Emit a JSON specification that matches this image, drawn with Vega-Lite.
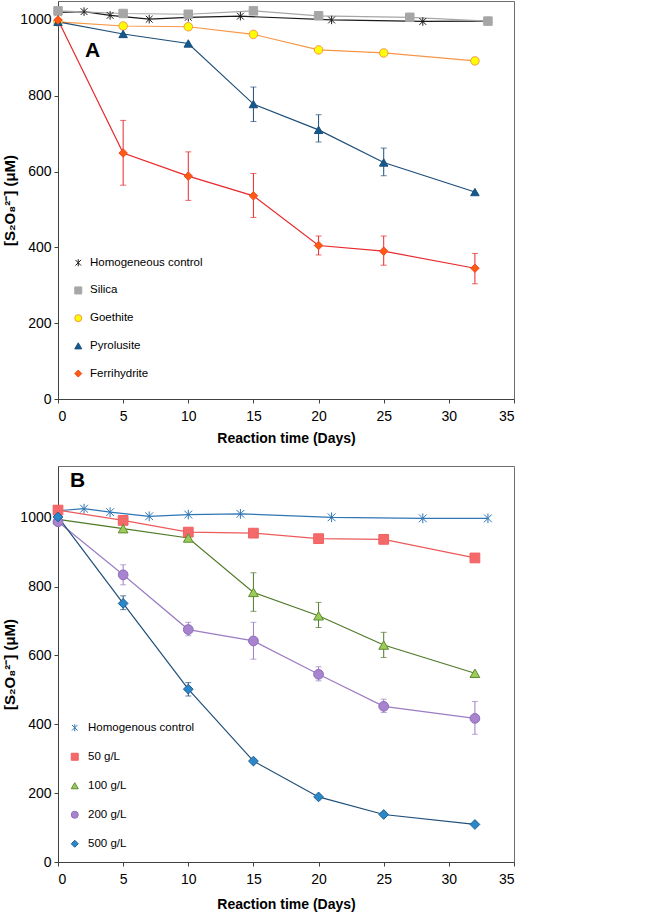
{
  "$schema": "https://vega.github.io/schema/vega-lite/v6.json",
  "padding": {"left": 2, "top": 0, "right": 5, "bottom": 2},
  "spacing": 19,
  "config": {
    "font": "Liberation Sans",
    "view": {"stroke": "#6e6e6e", "strokeWidth": 1},
    "axis": {
      "grid": false, "domain": true, "domainColor": "#404040", "tickColor": "#404040", "tickSize": 4,
      "labelFont": "Liberation Sans", "labelFontSize": 14, "labelColor": "#000000",
      "titleFont": "Liberation Sans", "titleFontSize": 14, "titleFontWeight": "bold", "titleColor": "#000000"
    },
    "legend": {
      "labelFont": "Liberation Sans", "labelFontSize": 11.5, "labelColor": "#000000",
      "symbolSize": 49, "symbolStrokeWidth": 1
    },
    "title": {"font": "Liberation Sans", "fontSize": 21, "fontWeight": "bold", "color": "#000000", "anchor": "start", "frame": "group", "offset": 0}
  },
  "resolve": {"scale": {"color": "independent", "shape": "independent", "fill": "independent", "stroke": "independent"}, "legend": {"color": "independent", "shape": "independent", "fill": "independent", "stroke": "independent"}},
  "datasets": {
    "panelA": [
      {"series": "Homogeneous control", "day": 0, "value": 1020},
      {"series": "Homogeneous control", "day": 2, "value": 1022},
      {"series": "Homogeneous control", "day": 4, "value": 1012},
      {"series": "Homogeneous control", "day": 7, "value": 1002},
      {"series": "Homogeneous control", "day": 10, "value": 1007},
      {"series": "Homogeneous control", "day": 14, "value": 1010},
      {"series": "Homogeneous control", "day": 21, "value": 1000},
      {"series": "Homogeneous control", "day": 28, "value": 996},
      {"series": "Homogeneous control", "day": 33, "value": 997},
      {"series": "Silica", "day": 0, "value": 1024},
      {"series": "Silica", "day": 5, "value": 1017},
      {"series": "Silica", "day": 10, "value": 1015},
      {"series": "Silica", "day": 15, "value": 1024},
      {"series": "Silica", "day": 20, "value": 1011},
      {"series": "Silica", "day": 27, "value": 1007},
      {"series": "Silica", "day": 33, "value": 997},
      {"series": "Goethite", "day": 0, "value": 995},
      {"series": "Goethite", "day": 5, "value": 984},
      {"series": "Goethite", "day": 10, "value": 982},
      {"series": "Goethite", "day": 15, "value": 962},
      {"series": "Goethite", "day": 20, "value": 921},
      {"series": "Goethite", "day": 25, "value": 913},
      {"series": "Goethite", "day": 32, "value": 892},
      {"series": "Pyrolusite", "day": 0, "value": 995},
      {"series": "Pyrolusite", "day": 5, "value": 963},
      {"series": "Pyrolusite", "day": 10, "value": 938},
      {"series": "Pyrolusite", "day": 15, "value": 778, "lo": 732, "hi": 823},
      {"series": "Pyrolusite", "day": 20, "value": 710, "lo": 678, "hi": 750},
      {"series": "Pyrolusite", "day": 25, "value": 624, "lo": 589, "hi": 662},
      {"series": "Pyrolusite", "day": 32, "value": 546},
      {"series": "Ferrihydrite", "day": 0, "value": 1000},
      {"series": "Ferrihydrite", "day": 5, "value": 649, "lo": 564, "hi": 735},
      {"series": "Ferrihydrite", "day": 10, "value": 588, "lo": 524, "hi": 652},
      {"series": "Ferrihydrite", "day": 15, "value": 536, "lo": 479, "hi": 595},
      {"series": "Ferrihydrite", "day": 20, "value": 405, "lo": 380, "hi": 430},
      {"series": "Ferrihydrite", "day": 25, "value": 390, "lo": 353, "hi": 430},
      {"series": "Ferrihydrite", "day": 32, "value": 345, "lo": 304, "hi": 384}
    ],
    "panelB": [
      {"load": "Homogenous control", "day": 0, "value": 1020},
      {"load": "Homogenous control", "day": 2, "value": 1026},
      {"load": "Homogenous control", "day": 4, "value": 1016},
      {"load": "Homogenous control", "day": 7, "value": 1004},
      {"load": "Homogenous control", "day": 10, "value": 1009},
      {"load": "Homogenous control", "day": 14, "value": 1011},
      {"load": "Homogenous control", "day": 21, "value": 1001},
      {"load": "Homogenous control", "day": 28, "value": 998},
      {"load": "Homogenous control", "day": 33, "value": 998},
      {"load": "50 g/L", "day": 0, "value": 1022},
      {"load": "50 g/L", "day": 5, "value": 992},
      {"load": "50 g/L", "day": 10, "value": 958},
      {"load": "50 g/L", "day": 15, "value": 955},
      {"load": "50 g/L", "day": 20, "value": 939},
      {"load": "50 g/L", "day": 25, "value": 937},
      {"load": "50 g/L", "day": 32, "value": 883},
      {"load": "100 g/L", "day": 0, "value": 995},
      {"load": "100 g/L", "day": 5, "value": 968},
      {"load": "100 g/L", "day": 10, "value": 941},
      {"load": "100 g/L", "day": 15, "value": 783, "lo": 728, "hi": 840},
      {"load": "100 g/L", "day": 20, "value": 715, "lo": 681, "hi": 754},
      {"load": "100 g/L", "day": 25, "value": 630, "lo": 594, "hi": 667},
      {"load": "100 g/L", "day": 32, "value": 548},
      {"load": "200 g/L", "day": 0, "value": 988},
      {"load": "200 g/L", "day": 5, "value": 834, "lo": 805, "hi": 863},
      {"load": "200 g/L", "day": 10, "value": 675, "lo": 657, "hi": 696},
      {"load": "200 g/L", "day": 15, "value": 642, "lo": 589, "hi": 696},
      {"load": "200 g/L", "day": 20, "value": 545, "lo": 526, "hi": 567},
      {"load": "200 g/L", "day": 25, "value": 452, "lo": 434, "hi": 473},
      {"load": "200 g/L", "day": 32, "value": 417, "lo": 371, "hi": 466},
      {"load": "500 g/L", "day": 0, "value": 1002},
      {"load": "500 g/L", "day": 5, "value": 751, "lo": 733, "hi": 773},
      {"load": "500 g/L", "day": 10, "value": 502, "lo": 482, "hi": 521},
      {"load": "500 g/L", "day": 15, "value": 293},
      {"load": "500 g/L", "day": 20, "value": 189},
      {"load": "500 g/L", "day": 25, "value": 138},
      {"load": "500 g/L", "day": 32, "value": 109}
    ]
  },
  "vconcat": [
    {
      "width": 456, "height": 398,
      "title": {"text": "A", "dx": 27, "dy": 64},
      "data": {"name": "panelA"},
      "encoding": {
        "x": {"field": "day", "type": "quantitative", "scale": {"domain": [0, 35], "nice": false}, "axis": {"values": [0,5,10,15,20,25,30,35], "title": "Reaction time (Days)", "labelPadding": 6, "titlePadding": 8}},
        "y": {"field": "value", "type": "quantitative", "scale": {"domain": [0, 1050], "nice": false}, "axis": {"values": [0,200,400,600,800,1000], "format": "d", "title": "[S₂O₈²⁻] (μM)", "titleFontSize": 15, "labelPadding": 3, "titlePadding": 2}}
      },
      "layer": [
        {
          "mark": {"type": "line", "strokeWidth": 1.2},
          "encoding": {
            "color": {"field": "series", "type": "nominal", "legend": null,
              "scale": {"domain": ["Ferrihydrite","Pyrolusite","Goethite","Silica","Homogeneous control"], "range": ["#e8282b","#1f4e79","#f79646","#a6a6a6","#1a1a1a"]}}
          }
        },
        {
          "transform": [{"filter": "isValid(datum.lo)"}],
          "mark": {"type": "rule", "strokeWidth": 1},
          "encoding": {
            "y": {"field": "lo", "type": "quantitative"},
            "y2": {"field": "hi"},
            "color": {"field": "series", "type": "nominal", "legend": null}
          }
        },
        {
          "transform": [{"filter": "isValid(datum.lo)"}],
          "mark": {"type": "tick", "orient": "horizontal", "size": 6, "thickness": 1},
          "encoding": {
            "y": {"field": "lo", "type": "quantitative"},
            "color": {"field": "series", "type": "nominal", "legend": null}
          }
        },
        {
          "transform": [{"filter": "isValid(datum.hi)"}],
          "mark": {"type": "tick", "orient": "horizontal", "size": 6, "thickness": 1},
          "encoding": {
            "y": {"field": "hi", "type": "quantitative"},
            "color": {"field": "series", "type": "nominal", "legend": null}
          }
        },
        {
          "mark": {"type": "point", "filled": true, "size": 72, "strokeWidth": 1, "opacity": 1},
          "encoding": {
            "shape": {"field": "series", "type": "nominal",
              "scale": {"domain": ["Homogeneous control","Silica","Goethite","Pyrolusite","Ferrihydrite"], "range": ["M0,-1L0,1M-0.8,-0.8L0.8,0.8M-0.8,0.8L0.8,-0.8","square","circle","triangle-up","diamond"]},
              "legend": {
                "orient": "none", "title": null, "legendX": 14.5, "legendY": 256, "labelOffset": 6, "rowPadding": 14.7
              }},
            "fill": {"field": "series", "type": "nominal",
              "scale": {"domain": ["Homogeneous control","Silica","Goethite","Pyrolusite","Ferrihydrite"], "range": ["#1a1a1a","#a6a6a6","#ffff00","#0f5a8f","#ff5a14"]}},
            "stroke": {"field": "series", "type": "nominal",
              "scale": {"domain": ["Homogeneous control","Silica","Goethite","Pyrolusite","Ferrihydrite"], "range": ["#1a1a1a","#a6a6a6","#f79646","#1f4e79","#f04a1e"]}}
          }
        }
      ]
    },
    {
      "width": 456, "height": 396,
      "title": {"text": "B", "dx": 12, "dy": 29},
      "data": {"name": "panelB"},
      "encoding": {
        "x": {"field": "day", "type": "quantitative", "scale": {"domain": [0, 35], "nice": false}, "axis": {"values": [0,5,10,15,20,25,30,35], "title": "Reaction time (Days)", "labelPadding": 6, "titlePadding": 11}},
        "y": {"field": "value", "type": "quantitative", "scale": {"domain": [0, 1150], "nice": false}, "axis": {"values": [0,200,400,600,800,1000], "format": "d", "title": "[S₂O₈²⁻] (μM)", "titleFontSize": 15, "labelPadding": 3, "titlePadding": 2}}
      },
      "layer": [
        {
          "mark": {"type": "line", "strokeWidth": 1.2},
          "encoding": {
            "color": {"field": "load", "type": "nominal", "legend": null,
              "scale": {"domain": ["500 g/L","200 g/L","100 g/L","50 g/L","Homogenous control"], "range": ["#1f4e79","#9b7dc3","#4f7a28","#ec5a5a","#2e75b6"]}}
          }
        },
        {
          "transform": [{"filter": "isValid(datum.lo)"}],
          "mark": {"type": "rule", "strokeWidth": 1},
          "encoding": {
            "y": {"field": "lo", "type": "quantitative"},
            "y2": {"field": "hi"},
            "color": {"field": "load", "type": "nominal", "legend": null}
          }
        },
        {
          "transform": [{"filter": "isValid(datum.lo)"}],
          "mark": {"type": "tick", "orient": "horizontal", "size": 6, "thickness": 1},
          "encoding": {
            "y": {"field": "lo", "type": "quantitative"},
            "color": {"field": "load", "type": "nominal", "legend": null}
          }
        },
        {
          "transform": [{"filter": "isValid(datum.hi)"}],
          "mark": {"type": "tick", "orient": "horizontal", "size": 6, "thickness": 1},
          "encoding": {
            "y": {"field": "hi", "type": "quantitative"},
            "color": {"field": "load", "type": "nominal", "legend": null}
          }
        },
        {
          "mark": {"type": "point", "filled": true, "size": 95, "strokeWidth": 1, "opacity": 1},
          "encoding": {
            "shape": {"field": "load", "type": "nominal",
              "scale": {"domain": ["Homogenous control","50 g/L","100 g/L","200 g/L","500 g/L"], "range": ["M0,-1L0,1M-0.8,-0.8L0.8,0.8M-0.8,0.8L0.8,-0.8","square","triangle-up","circle","diamond"]},
              "legend": {
                "orient": "none", "title": null, "legendX": 11, "legendY": 256, "labelOffset": 7.5, "rowPadding": 16
              }},
            "fill": {"field": "load", "type": "nominal",
              "scale": {"domain": ["Homogenous control","50 g/L","100 g/L","200 g/L","500 g/L"], "range": ["#2e75b6","#f46a6a","#9bcb5b","#a883cf","#2a87c8"]}},
            "stroke": {"field": "load", "type": "nominal",
              "scale": {"domain": ["Homogenous control","50 g/L","100 g/L","200 g/L","500 g/L"], "range": ["#2e75b6","#f26060","#5e8c2e","#8e6cb8","#1f5e96"]}}
          }
        }
      ]
    }
  ]
}
